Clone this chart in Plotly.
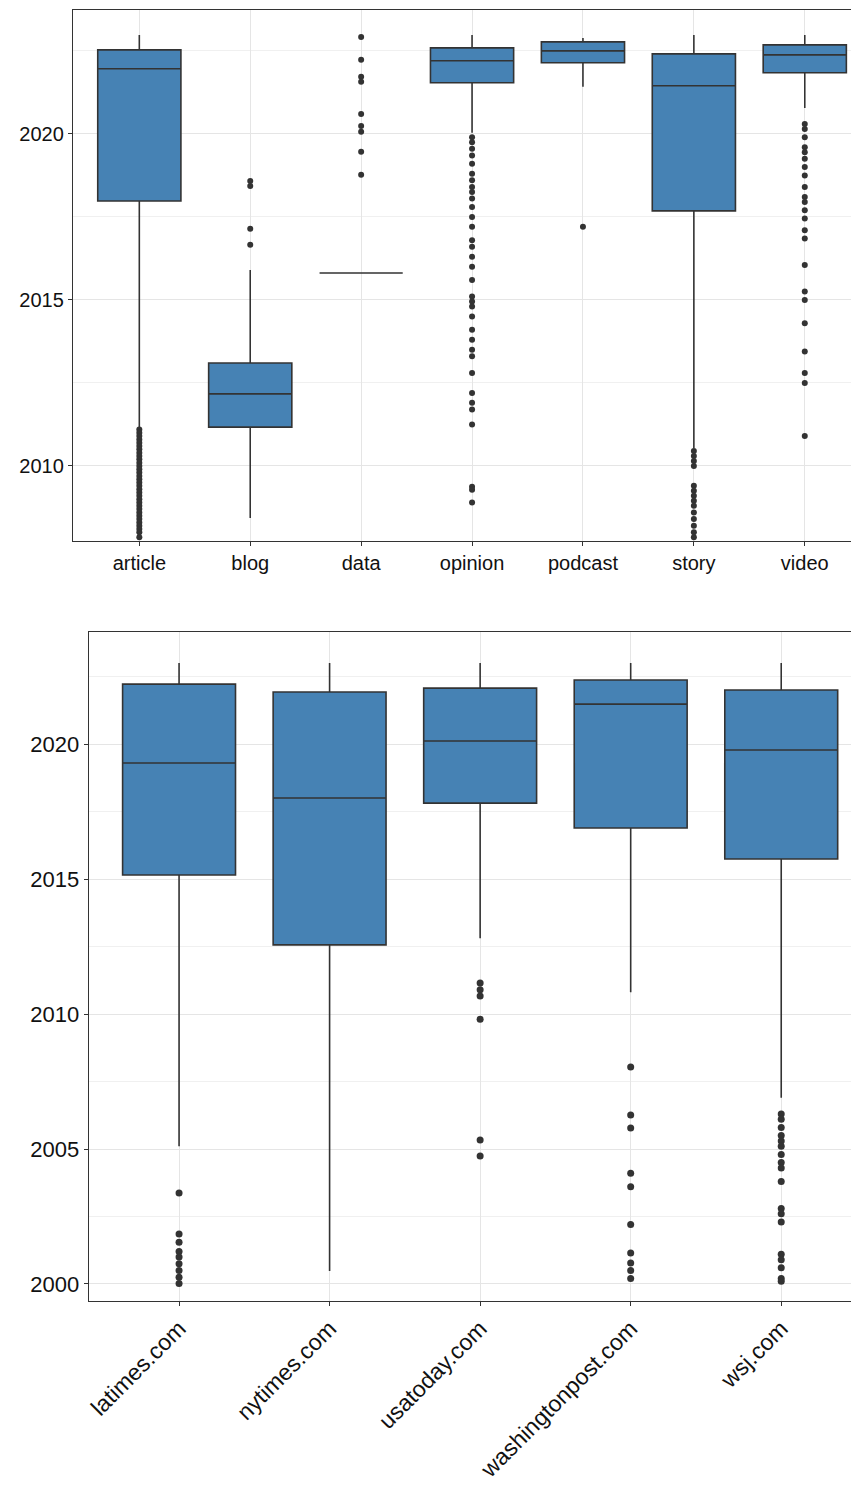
import plotly.graph_objects as go

# Top panel: content type
types = ["article", "blog", "data", "opinion", "podcast", "story", "video"]
t_low = [2011.14, 2008.43, 2015.81, 2020.03, 2021.42, 2010.54, 2020.78]
t_q1 = [2017.98, 2011.17, 2015.81, 2021.54, 2022.14, 2017.68, 2021.84]
t_med = [2021.96, 2012.17, 2015.81, 2022.20, 2022.50, 2021.45, 2022.38]
t_q3 = [2022.53, 2013.10, 2015.81, 2022.59, 2022.77, 2022.41, 2022.68]
t_up = [2022.98, 2015.90, 2015.81, 2022.98, 2022.89, 2022.98, 2022.98]
t_out = {
    "article": [2011.1, 2011.0, 2010.9, 2010.8, 2010.7, 2010.6, 2010.5, 2010.4, 2010.3, 2010.2, 2010.1,
                2010.0, 2009.9, 2009.8, 2009.7, 2009.6, 2009.5, 2009.4, 2009.3, 2009.2, 2009.1, 2009.0,
                2008.9, 2008.8, 2008.7, 2008.6, 2008.5, 2008.4, 2008.3, 2008.2, 2008.1, 2008.0, 2007.85],
    "blog": [2018.58, 2018.43, 2017.14, 2016.66],
    "data": [2022.92, 2022.23, 2021.72, 2021.57, 2020.6, 2020.24, 2020.06, 2019.46, 2018.77],
    "opinion": [2019.9, 2019.75, 2019.55, 2019.35, 2019.1, 2018.8, 2018.6, 2018.4, 2018.25, 2018.05,
                2017.8, 2017.5, 2017.2, 2016.8, 2016.6, 2016.3, 2016.0, 2015.6, 2015.1, 2014.95,
                2014.8, 2014.5, 2014.1, 2013.8, 2013.5, 2013.3, 2012.8, 2012.2, 2011.9, 2011.7,
                2011.25, 2009.37, 2009.28, 2008.9],
    "podcast": [2017.2],
    "story": [2010.45, 2010.3, 2010.15, 2010.0, 2009.4, 2009.25, 2009.1, 2008.95, 2008.8, 2008.6,
              2008.4, 2008.2, 2008.0, 2007.85],
    "video": [2020.3, 2020.15, 2019.9, 2019.6, 2019.45, 2019.25, 2019.0, 2018.75, 2018.4, 2018.1,
              2017.95, 2017.7, 2017.45, 2017.1, 2016.85, 2016.05, 2015.25, 2015.0, 2014.3, 2013.45,
              2012.8, 2012.5, 2010.9],
}

# Bottom panel: site
sites = ["latimes.com", "nytimes.com", "usatoday.com", "washingtonpost.com", "wsj.com"]
s_low = [2005.10, 2000.48, 2012.81, 2010.81, 2006.90]
s_q1 = [2015.15, 2012.56, 2017.81, 2016.89, 2015.74]
s_med = [2019.30, 2018.00, 2020.11, 2021.48, 2019.78]
s_q3 = [2022.22, 2021.93, 2022.07, 2022.37, 2022.00]
s_up = [2023.0, 2023.0, 2023.0, 2023.0, 2023.0]
s_out = {
    "latimes.com": [2003.37, 2001.85, 2001.55, 2001.2, 2001.0, 2000.75, 2000.5, 2000.25, 2000.02],
    "nytimes.com": [],
    "usatoday.com": [2011.15, 2010.9, 2010.67, 2009.81, 2005.33, 2004.74],
    "washingtonpost.com": [2008.04, 2006.26, 2005.78, 2004.1, 2003.6, 2002.2, 2001.15, 2000.78,
                           2000.5, 2000.2],
    "wsj.com": [2006.3, 2006.1, 2005.8, 2005.5, 2005.3, 2005.1, 2004.8, 2004.5, 2004.3, 2003.8,
                2002.8, 2002.6, 2002.3, 2001.1, 2000.9, 2000.6, 2000.2, 2000.1],
}

FILL = "#4682B4"
LINE = "#333333"
W, H, OFF = 851, 1476, 8  # page body margin offsets the figure by 8px

def dx(a, b):
    return [(a - OFF) / W, min(1.0, (b - OFF) / W)]

def dy(top, bot):
    return [1 - (bot - OFF) / H, 1 - (top - OFF) / H]

fig = go.Figure()
fig.add_trace(go.Box(x=types, q1=t_q1, median=t_med, q3=t_q3, lowerfence=t_low, upperfence=t_up,
                     fillcolor=FILL, line=dict(color=LINE, width=1.6), boxpoints=False, width=0.75,
                     whiskerwidth=0, xaxis="x", yaxis="y", showlegend=False, hoverinfo="skip"))
ox, oy = [], []
for k, v in t_out.items():
    ox += [k] * len(v); oy += v
fig.add_trace(go.Scatter(x=ox, y=oy, mode="markers", marker=dict(color=LINE, size=6),
                         xaxis="x", yaxis="y", showlegend=False))

fig.add_trace(go.Box(x=sites, q1=s_q1, median=s_med, q3=s_q3, lowerfence=s_low, upperfence=s_up,
                     fillcolor=FILL, line=dict(color=LINE, width=1.6), boxpoints=False, width=0.75,
                     whiskerwidth=0, xaxis="x2", yaxis="y2", showlegend=False, hoverinfo="skip"))
ox, oy = [], []
for k, v in s_out.items():
    ox += [k] * len(v); oy += v
fig.add_trace(go.Scatter(x=ox, y=oy, mode="markers", marker=dict(color=LINE, size=7),
                         xaxis="x2", yaxis="y2", showlegend=False))

ax = dict(showline=True, linecolor="#333333", mirror=True, gridcolor="#E5E5E5", ticks="outside",
          ticklen=4, tickcolor="#333333", zeroline=False)
fig.update_layout(
    width=W, height=H, margin=dict(l=0, r=0, t=0, b=0),
    plot_bgcolor="white", paper_bgcolor="white",
    font=dict(family="Liberation Sans, Arial", color="#1a1a1a"),
    xaxis=dict(ax, domain=dx(70, 858), anchor="y", range=[-0.6, 6.48], tickfont=dict(size=20, color="#111")),
    yaxis=dict(ax, domain=dy(10, 541), anchor="x", range=[2007.74, 2023.73],
               tickvals=[2010, 2015, 2020], tickfont=dict(size=20, color="#111"),
               minor=dict(tickvals=[2007.5, 2012.5, 2017.5, 2022.5], showgrid=True, gridcolor="#F0F0F0")),
    xaxis2=dict(ax, domain=dx(86, 858), anchor="y2", range=[-0.6, 4.51], tickangle=-45,
                tickfont=dict(size=23, color="#111")),
    yaxis2=dict(ax, domain=dy(632, 1301), anchor="x2", range=[1999.37, 2024.15],
                tickvals=[2000, 2005, 2010, 2015, 2020], tickfont=dict(size=22, color="#111"),
                minor=dict(tickvals=[2002.5, 2007.5, 2012.5, 2017.5, 2022.5], showgrid=True, gridcolor="#F0F0F0")),
)
fig.write_html("out.html")
